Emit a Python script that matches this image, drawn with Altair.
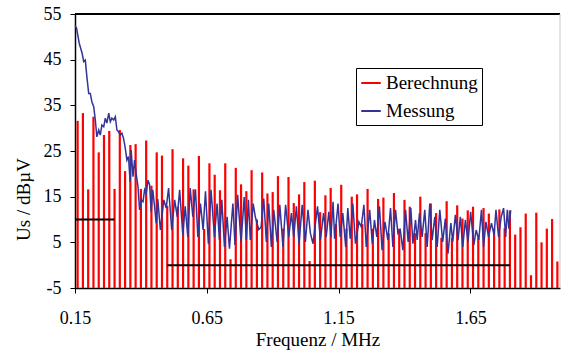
import altair as alt
import pandas as pd

# ---- data ----
calc_freq = [0.16, 0.18, 0.20, 0.22, 0.24, 0.26, 0.28, 0.30, 0.32, 0.34,
             0.36, 0.38, 0.40, 0.42, 0.44, 0.46, 0.48, 0.50, 0.52, 0.54,
             0.56, 0.58, 0.60, 0.62, 0.64, 0.66, 0.68, 0.70, 0.72, 0.74,
             0.76, 0.78, 0.80, 0.82, 0.84, 0.86, 0.88, 0.90, 0.92, 0.94,
             0.96, 0.98, 1.00, 1.02, 1.04, 1.06, 1.08, 1.10, 1.12, 1.14,
             1.16, 1.18, 1.20, 1.22, 1.24, 1.26, 1.28, 1.30, 1.32, 1.34,
             1.36, 1.38, 1.40, 1.42, 1.44, 1.46, 1.48, 1.50, 1.52, 1.54,
             1.56, 1.58, 1.60, 1.62, 1.64, 1.66, 1.68, 1.70, 1.72, 1.74,
             1.76, 1.78, 1.80, 1.82, 1.84, 1.86, 1.88, 1.90, 1.92, 1.94,
             1.96, 1.98]
calc_level = [31.6, 33.3, 16.6, 32.5, 24.7, 28.5, 29.4, 16.7, 29.6, 20.6,
              26.3, 26.5, 16.7, 27.3, 17.4, 24.7, 24.0, 13.0, 25.4, 12.8,
              23.4, 21.8, 16.6, 23.9, 7.9, 22.3, 19.8, 16.4, 22.3, 1.3,
              21.3, 17.7, 16.2, 20.8, 10.0, 20.3, 15.7, 16.0, 19.5, 8.0,
              19.3, 13.6, 15.5, 18.2, 0.9, 18.5, 11.6, 15.3, 16.9, 9.0,
              17.6, 8.0, 15.0, 15.5, 9.0, 16.7, 8.0, 14.5, 14.8, 7.0,
              15.8, 8.0, 14.3, 12.8, 7.0, 15.0, 7.0, 13.5, 11.4, 6.0,
              14.0, 6.0, 13.1, 10.2, 12.0, 12.8, 6.0, 12.5, 11.3, 8.0,
              12.2, 8.1, 12.0, 6.7, 8.3, 11.3, -2.2, 11.5, 5.0, 8.0,
              10.1, 0.8]

meas_freq = [0.150, 0.156, 0.166, 0.177, 0.183, 0.189, 0.195, 0.202, 0.208, 0.214,
             0.221, 0.227, 0.233, 0.240, 0.246, 0.252, 0.259, 0.265, 0.271, 0.278,
             0.284, 0.290, 0.297, 0.303, 0.309, 0.315, 0.322, 0.328, 0.334, 0.340,
             0.347, 0.353, 0.359, 0.363, 0.370, 0.376, 0.382, 0.389, 0.395, 0.401,
             0.408, 0.414, 0.420, 0.427, 0.433, 0.439, 0.445, 0.452, 0.458, 0.464,
             0.474, 0.487, 0.496, 0.505, 0.517, 0.528, 0.538, 0.547, 0.559, 0.568,
             0.578, 0.587, 0.597, 0.607, 0.616, 0.626, 0.636, 0.645, 0.656, 0.666,
             0.679, 0.689, 0.698, 0.707, 0.717, 0.727, 0.736, 0.749, 0.757, 0.767,
             0.780, 0.792, 0.800, 0.808, 0.815, 0.826, 0.834, 0.847, 0.856, 0.866,
             0.876, 0.885, 0.895, 0.904, 0.917, 0.927, 0.939, 0.949, 0.961, 0.971,
             0.980, 0.990, 1.000, 1.012, 1.024, 1.034, 1.043, 1.053, 1.070, 1.081,
             1.093, 1.103, 1.113, 1.121, 1.129, 1.135, 1.148, 1.156, 1.166, 1.177,
             1.185, 1.194, 1.204, 1.214, 1.227, 1.236, 1.246, 1.255, 1.268, 1.278,
             1.286, 1.295, 1.305, 1.315, 1.326, 1.337, 1.347, 1.356, 1.366, 1.375,
             1.384, 1.394, 1.404, 1.414, 1.424, 1.432, 1.442, 1.448, 1.457, 1.467,
             1.477, 1.486, 1.496, 1.505, 1.515, 1.524, 1.534, 1.545, 1.555, 1.565,
             1.576, 1.583, 1.593, 1.603, 1.612, 1.621, 1.631, 1.641, 1.651, 1.663,
             1.672, 1.682, 1.692, 1.700, 1.709, 1.719, 1.730, 1.740, 1.747, 1.757,
             1.767, 1.776, 1.784, 1.790, 1.796, 1.803]
meas_level = [52.5, 51.9, 48.6, 46.4, 44.6, 44.9, 41.3, 37.6, 37.6, 35.8,
              34.7, 31.8, 28.1, 29.6, 28.5, 30.7, 30.3, 32.2, 31.1, 33.3,
              31.4, 32.2, 31.8, 32.5, 29.6, 29.2, 28.5, 28.9, 27.8, 25.9,
              23.0, 23.8, 18.3, 25.2, 19.4, 23.0, 20.1, 17.2, 12.1, 14.3,
              13.9, 16.5, 15.7, 18.6, 17.6, 11.7, 16.5, 12.8, 9.2, 14.5,
              7.7, 14.3, 12.5, 16.9, 7.7, 14.3, 10.6, 16.5, 6.6, 12.9,
              6.2, 16.9, 10.6, 16.6, 6.2, 13.5, 7.7, 16.2, 4.7, 16.5,
              6.2, 13.5, 5.5, 14.3, 4.0, 10.6, 3.6, 13.5, 4.4, 15.4,
              5.1, 14.9, 5.5, 14.3, 5.5, 13.5, 10.6, 7.8, 8.3, 14.6,
              5.1, 13.5, 4.0, 12.1, 5.1, 13.2, 4.0, 13.2, 6.2, 11.4,
              6.2, 12.9, 4.7, 13.2, 5.1, 12.1, 7.0, 4.7, 12.9, 5.5,
              11.4, 6.2, 11.7, 6.2, 13.9, 5.8, 13.5, 6.2, 11.4, 4.0,
              12.5, 5.8, 13.5, 4.7, 9.5, 8.4, 13.2, 4.0, 12.1, 4.7,
              9.9, 6.2, 12.9, 3.3, 9.5, 5.5, 12.5, 4.0, 12.1, 7.0,
              7.7, 3.3, 12.1, 5.1, 12.5, 4.7, 9.9, 5.5, 11.4, 6.2,
              12.1, 4.0, 13.5, 5.5, 10.6, 4.0, 12.1, 5.1, 10.2, 2.5,
              9.2, 5.1, 11.0, 5.5, 10.6, 4.0, 9.9, 5.1, 11.7, 4.4,
              7.7, 5.5, 12.1, 4.0, 9.5, 6.2, 9.2, 6.6, 12.1, 6.2,
              10.6, 12.5, 6.2, 12.1, 8.0, 12.0]

limit_freq = [0.15, 0.30, 0.50, 1.80]
limit_level = [10, 10, 0, 0]
limit_group = ["a", "a", "b", "b"]

series_names = ["Berechnung", "Messung"]
series_colors = ["#ff0000", "#333399"]
x_ticks = [0.15, 0.65, 1.15, 1.65]
y_ticks = [-5, 5, 15, 25, 35, 45, 55]
x_domain = [0.15, 1.99]
y_domain = [-5, 55]

FONT = "Liberation Serif"

calc = pd.DataFrame({"f": calc_freq, "v": calc_level, "s": series_names[0]})
meas = pd.DataFrame({"f": meas_freq, "v": meas_level, "s": series_names[1]})
limits = pd.DataFrame({"f": limit_freq, "v": limit_level, "g": limit_group})

xscale = alt.Scale(domain=x_domain, nice=False, zero=False)
yscale = alt.Scale(domain=y_domain, nice=False, zero=False)

color = alt.Color(
    "s:N",
    scale=alt.Scale(domain=series_names, range=series_colors),
    legend=alt.Legend(
        title=None, orient="none", legendX=281, legendY=54,
        strokeColor="black", fillColor="white", padding=4, rowPadding=7,
        labelFont=FONT, labelFontSize=19, labelColor="black", labelOffset=4,
        symbolType="stroke", symbolSize=380, symbolStrokeWidth=2,
        cornerRadius=0,
    ),
)

x_enc = alt.X(
    "f:Q", scale=xscale,
    axis=alt.Axis(values=x_ticks, format=".2f", title="Frequenz / MHz",
                  labelFlush=False, labelPadding=16,
                  titleBaseline="alphabetic", titleY=57),
)
y_enc = alt.Y(
    "v:Q", scale=yscale,
    axis=alt.Axis(values=y_ticks, title="Us / dBµV", labelPadding=9,
                  labelFlush=False, labelExpr="'' + datum.value",
                  titleX=-52, titleY=185, titleAngle=270, titleAlign="center",
                  titleBaseline="middle"),
)

bars = alt.Chart(calc).mark_rule(strokeWidth=2.2).encode(
    x=x_enc, y=y_enc, y2=alt.datum(-5), color=color
)
line = alt.Chart(meas).mark_line(strokeWidth=1.5).encode(
    x="f:Q", y="v:Q", color=color
)
lim = alt.Chart(limits).mark_line(color="black", strokeWidth=2).encode(
    x="f:Q", y="v:Q", detail="g:N"
)
top = alt.Chart(pd.DataFrame({"v": [55]})).mark_rule(color="black", strokeWidth=2).encode(
    y="v:Q"
)
right = alt.Chart(pd.DataFrame({"f": [1.99]})).mark_rule(color="#c8c8c8", strokeWidth=1).encode(
    x="f:Q"
)

chart = (
    alt.layer(bars, line, lim, top, right)
    .properties(
        width=485, height=274,
        autosize=alt.AutoSizeParams(type="none"),
        padding={"left": 75, "top": 14, "right": 3, "bottom": 63},
        background="white",
    )
    .configure_view(stroke=None)
    .configure_axis(
        grid=False, domainColor="black", domainWidth=1.5, tickColor="black",
        tickSize=5, tickWidth=1, labelFont=FONT, labelFontSize=18, labelColor="black",
        titleFont=FONT, titleFontSize=19, titleFontWeight="normal", titleColor="black",
    )
)

chart.save("out.html", embed_options={"renderer": "svg", "actions": False})
